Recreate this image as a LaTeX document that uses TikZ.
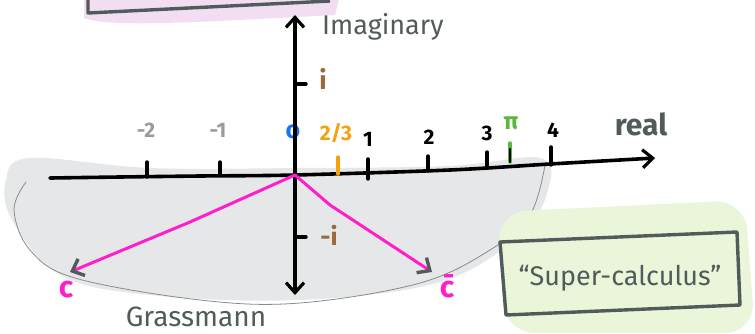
\documentclass[tikz,border=0pt]{standalone}
\usepackage{fontspec}
\setmainfont{Fira Sans}
\usetikzlibrary{arrows.meta}
\definecolor{dg}{HTML}{525B5B}
\definecolor{pinkfill}{HTML}{F3DDF1}
\definecolor{grayfill}{HTML}{E6E7E9}
\definecolor{greenfill}{HTML}{EAF5DA}
\definecolor{brownc}{HTML}{9A6A3A}
\definecolor{orangec}{HTML}{F5A10F}
\definecolor{bluec}{HTML}{1A73F0}
\definecolor{greenc}{HTML}{5CB83C}
\definecolor{magc}{HTML}{FF1ECB}
\definecolor{lgray}{HTML}{9A9A9A}
\tikzset{
  axisline/.style={line width=3.6pt, line cap=round, line join=round, black},
  tickline/.style={line width=3.4pt, line cap=round},
  vecline/.style={line width=3pt, line cap=round, line join=round, magc},
  tipb/.style={-{Straight Barb[length=10pt,width=18pt,line width=3.2pt]}},
  lbl/.style={font=\fontsize{21}{21}\selectfont\bfseries, inner sep=0pt},
  title/.style={font=\fontsize{27}{27}\selectfont, text=dg, inner sep=0pt},
}
\begin{document}
\begin{tikzpicture}[x=1pt,y=-1pt]
\useasboundingbox (0,0) rectangle (755,333);
% pink box at top
\fill[pinkfill] (84,-5) -- (84,18) .. controls (110,28) and (200,22) .. (335,15) -- (340,-5) -- cycle;
\draw[dg, line width=3.4pt, line join=round] (88,-5) -- (88,13) -- (330,1);
% grey Grassmann blob
\fill[grayfill] plot[smooth cycle, tension=0.6] coordinates {(30,158) (150,168) (300,168) (450,166) (540,158) (548,190) (520,235) (440,282) (300,300) (150,295) (60,275) (12,220) (6,180)};
\draw[dg!70, line width=0.8pt] plot[smooth, tension=0.6] coordinates {(26,182) (14,210) (30,250) (75,278) (200,300) (300,303) (420,283) (490,250) (530,215) (545,165)};
% green box
\fill[greenfill, rounded corners=30pt] (497,212) -- (745,200) -- (755,333) -- (505,333) -- cycle;
\draw[dg, line width=3.4pt, line join=round] (500,242) -- (737,232) -- (740,305) -- (506,315) -- cycle;
\node[font=\fontsize{27}{27}\selectfont, text=dg, inner sep=0pt] (super) at (620,278) {“Super-calculus”};
% horizontal axis
\coordinate (L) at (50,178);
\coordinate (O) at (295,175);
\coordinate (R) at (655,158);
\draw[axisline, tipb] plot[smooth, tension=0.5] coordinates {(L) (120,177) (200,176) (O) (450,170) (550,164) (R)};
% ticks
\draw[tickline, black] (147,162) -- (147,177);
\draw[tickline, black] (220,162) -- (220,175);
\draw[tickline, orangec] (338,157) -- (338,174);
\draw[tickline, black] (368,159) -- (368,179);
\draw[tickline, black] (428,156) -- (428,171);
\draw[tickline, black] (487,152) -- (487,167);
\draw[tickline, greenc] (510,143) -- (510,162);
\draw[line width=2.4pt, black, line cap=round] (510,149) -- (510,162);
\draw[tickline, black] (551,147) -- (551,165);
% labels on the real axis
\node[lbl, text=lgray] (m2) at (146,130) {-2};
\node[lbl, text=lgray] (m1) at (218,130) {-1};
\node[lbl, text=bluec, font=\fontsize{25}{25}\selectfont\bfseries] (zero) at (293,132) {o};
\node[lbl, text=orangec] (twothirds) at (336,133) {2/3};
\node[lbl, text=black] (one) at (368,139) {1};
\node[lbl, text=black] (two) at (429,137) {2};
\node[lbl, text=black] (three) at (487,133) {3};
\node[lbl, text=greenc, font=\fontsize{24}{24}\selectfont\bfseries] (pi) at (511,123) {π};
\node[lbl, text=black] (four) at (553,130) {4};
\node[title, font=\fontsize{30}{30}\selectfont\bfseries] (real) at (641,124) {real};
% vertical axis
\coordinate (T) at (295,15);
\coordinate (B) at (295,295);
\draw[axisline, tipb] (O) -- (T);
\draw[axisline, tipb] (O) -- (B);
\draw[tickline, black] (295,84) -- (306,84);
\draw[tickline, black] (295,237) -- (306,237);
\node[lbl, text=brownc, font=\fontsize{26}{26}\selectfont\bfseries] (i) at (323,79) {i};
\node[lbl, text=brownc, font=\fontsize{25}{25}\selectfont\bfseries] (mi) at (329,235) {-i};
\node[title, anchor=west] (imag) at (322,27) {Imaginary};
% Grassmann vectors
\coordinate (cl) at (70,272);
\coordinate (cr) at (432,272);
\draw[vecline, -{Straight Barb[length=10pt,width=18pt,line width=3.4pt,color=dg]}] (O) -- (190,222) -- (cl);
\draw[vecline, -{Straight Barb[length=10pt,width=18pt,line width=3.4pt,color=dg]}] (O) -- (330,205) -- (365,228) -- (cr);
\node[lbl, text=magc, font=\fontsize{30}{30}\selectfont\bfseries] (c) at (66,290) {c};
\node[lbl, text=magc, font=\fontsize{30}{30}\selectfont\bfseries] (cbar) at (447,286) {\={c}};
\node[title, font=\fontsize{28}{28}\selectfont] (grass) at (196,317) {Grassmann};
\end{tikzpicture}
\end{document}
